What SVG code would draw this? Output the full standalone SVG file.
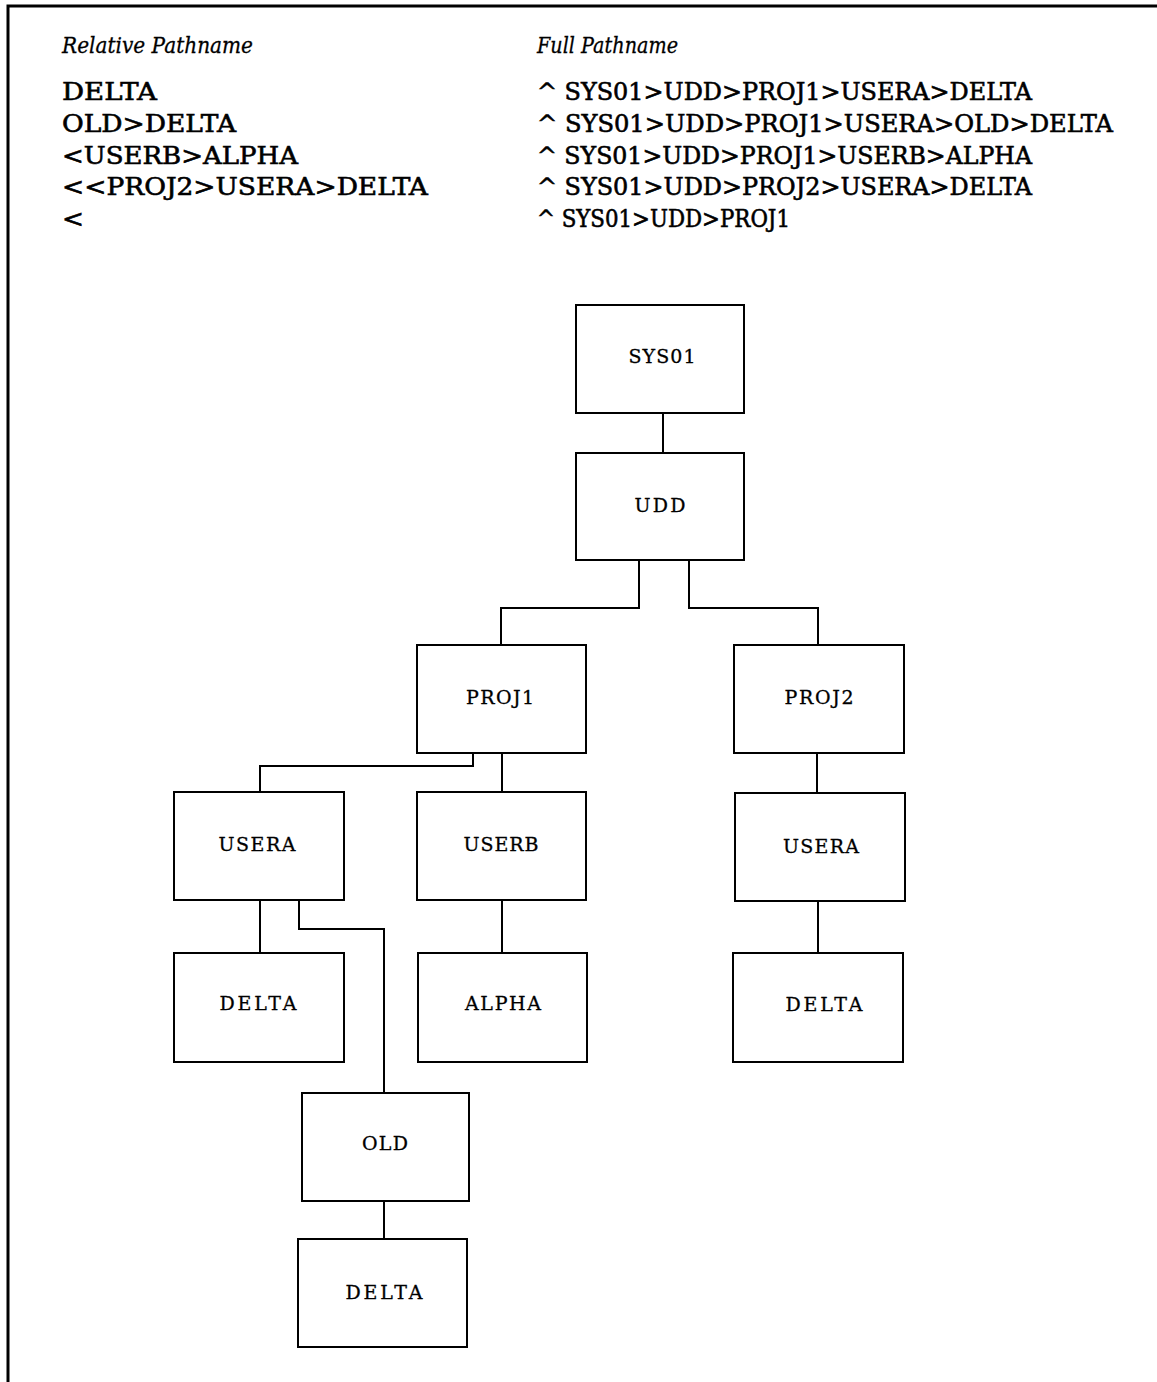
<svg xmlns="http://www.w3.org/2000/svg" width="1157" height="1382" viewBox="0 0 1157 1382">
<style>
.box{fill:#fff;stroke:#000;stroke-width:2}
.lbl{font-family:"DejaVu Serif","Liberation Serif",serif;font-size:19px;text-anchor:middle;fill:#000;stroke:#000;stroke-width:0.3}
.hdr{font-family:"DejaVu Serif","Liberation Serif",serif;font-size:22px;font-style:italic;fill:#000;stroke:#000;stroke-width:0.3}
.row{font-family:"DejaVu Serif","Liberation Serif",serif;font-size:23.5px;fill:#000;stroke:#000;stroke-width:0.6}
.con{fill:none;stroke:#000;stroke-width:2}
</style>
<rect width="1157" height="1382" fill="#fff"/>
<path d="M8 1382 V6 H1157" fill="none" stroke="#000" stroke-width="3"/>
<g id="table">
<text class="hdr" x="62" y="53" textLength="191" lengthAdjust="spacingAndGlyphs">Relative Pathname</text>
<text class="hdr" x="537" y="53" textLength="141" lengthAdjust="spacingAndGlyphs">Full Pathname</text>
<text class="row" x="62" y="100" textLength="95" lengthAdjust="spacingAndGlyphs">DELTA</text>
<text class="row" x="62" y="132" textLength="174" lengthAdjust="spacingAndGlyphs">OLD&gt;DELTA</text>
<text class="row" x="62" y="164" textLength="236" lengthAdjust="spacingAndGlyphs">&lt;USERB&gt;ALPHA</text>
<text class="row" x="62" y="195" textLength="366" lengthAdjust="spacingAndGlyphs">&lt;&lt;PROJ2&gt;USERA&gt;DELTA</text>
<text class="row" x="62" y="227" textLength="22" lengthAdjust="spacingAndGlyphs">&lt;</text>
<text class="row" x="537" y="100" textLength="495" lengthAdjust="spacingAndGlyphs">^ SYS01&gt;UDD&gt;PROJ1&gt;USERA&gt;DELTA</text>
<text class="row" x="537" y="132" textLength="576" lengthAdjust="spacingAndGlyphs">^ SYS01&gt;UDD&gt;PROJ1&gt;USERA&gt;OLD&gt;DELTA</text>
<text class="row" x="537" y="164" textLength="495" lengthAdjust="spacingAndGlyphs">^ SYS01&gt;UDD&gt;PROJ1&gt;USERB&gt;ALPHA</text>
<text class="row" x="537" y="195" textLength="495" lengthAdjust="spacingAndGlyphs">^ SYS01&gt;UDD&gt;PROJ2&gt;USERA&gt;DELTA</text>
<text class="row" x="537" y="227" textLength="253" lengthAdjust="spacingAndGlyphs">^ SYS01&gt;UDD&gt;PROJ1</text>
</g>
<g id="connectors">
<path class="con" d="M663 413 V453"/>
<path class="con" d="M639 560 V608 H501 V645"/>
<path class="con" d="M689 560 V608 H818 V645"/>
<path class="con" d="M473 753 V766 H260 V792"/>
<path class="con" d="M502 753 V792"/>
<path class="con" d="M260 900 V953"/>
<path class="con" d="M299 900 V929 H384 V1093"/>
<path class="con" d="M502 900 V953"/>
<path class="con" d="M817 753 V793"/>
<path class="con" d="M818 901 V953"/>
<path class="con" d="M384 1201 V1239"/>
</g>
<g id="sys01"><rect class="box" x="576" y="305" width="168" height="108"/><text class="lbl" x="662" y="363" textLength="67" lengthAdjust="spacing">SYS01</text></g>
<g id="udd"><rect class="box" x="576" y="453" width="168" height="107"/><text class="lbl" x="660" y="512" textLength="51" lengthAdjust="spacing">UDD</text></g>
<g id="proj1"><rect class="box" x="417" y="645" width="169" height="108"/><text class="lbl" x="500" y="704" textLength="68" lengthAdjust="spacing">PROJ1</text></g>
<g id="proj2"><rect class="box" x="734" y="645" width="170" height="108"/><text class="lbl" x="819" y="704" textLength="69" lengthAdjust="spacing">PROJ2</text></g>
<g id="usera1"><rect class="box" x="174" y="792" width="170" height="108"/><text class="lbl" x="257" y="851" textLength="77" lengthAdjust="spacing">USERA</text></g>
<g id="userb"><rect class="box" x="417" y="792" width="169" height="108"/><text class="lbl" x="501" y="851" textLength="75" lengthAdjust="spacing">USERB</text></g>
<g id="usera2"><rect class="box" x="735" y="793" width="170" height="108"/><text class="lbl" x="821" y="853" textLength="76" lengthAdjust="spacing">USERA</text></g>
<g id="delta1"><rect class="box" x="174" y="953" width="170" height="109"/><text class="lbl" x="258" y="1010" textLength="77" lengthAdjust="spacing">DELTA</text></g>
<g id="alpha"><rect class="box" x="418" y="953" width="169" height="109"/><text class="lbl" x="503" y="1010" textLength="76" lengthAdjust="spacing">ALPHA</text></g>
<g id="delta2"><rect class="box" x="733" y="953" width="170" height="109"/><text class="lbl" x="824" y="1011" textLength="77" lengthAdjust="spacing">DELTA</text></g>
<g id="old"><rect class="box" x="302" y="1093" width="167" height="108"/><text class="lbl" x="385" y="1150" textLength="46" lengthAdjust="spacing">OLD</text></g>
<g id="delta3"><rect class="box" x="298" y="1239" width="169" height="108"/><text class="lbl" x="384" y="1299" textLength="77" lengthAdjust="spacing">DELTA</text></g>
</svg>
